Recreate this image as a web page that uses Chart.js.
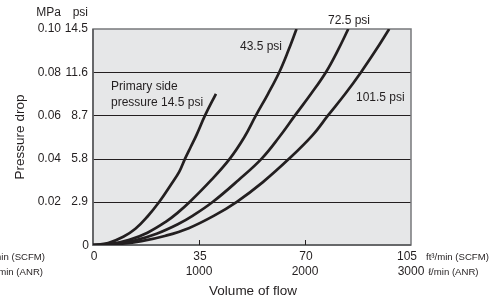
<!DOCTYPE html>
<html>
<head>
<meta charset="utf-8">
<script src="https://cdn.jsdelivr.net/npm/chart.js@4"></script>
<style>
  body { margin: 0; background: #fff; }
  #wrap { width: 504px; height: 302px; }
</style>
</head>
<body>
<div id="wrap"><canvas id="dropChart" width="504" height="302"></canvas></div>
<script>
// flow in ft3/min (SCFM), pressure drop in MPa
const flow145 = [0, 5, 10, 14, 18, 21.9, 26, 28.5, 30.4, 32.3, 34.2, 37, 40.6];
const drop145 = [0, 0.0009, 0.0038, 0.0075, 0.0132, 0.02, 0.0285, 0.034, 0.04, 0.0455, 0.051, 0.06, 0.07];

const flow435 = [0, 6, 12, 18, 24, 28, 32, 39, 45.2, 50, 53.8, 57.8, 61.5, 64.5, 67.2];
const drop435 = [0, 0.0005, 0.0024, 0.0057, 0.0107, 0.015, 0.02, 0.03, 0.04, 0.05, 0.06, 0.07, 0.08, 0.09, 0.10];

const flow725 = [0, 7, 14, 21, 28, 33, 39.6, 48, 55.7, 61.5, 66.7, 72, 76.9, 80.8, 84.3];
const drop725 = [0, 0.0005, 0.0022, 0.0052, 0.0096, 0.0136, 0.02, 0.03, 0.04, 0.05, 0.06, 0.07, 0.08, 0.09, 0.10];

const flow1015 = [0, 8, 16, 24, 31.6, 40, 47.5, 56, 64.8, 72.6, 77.6, 83.3, 88.5, 93.3, 97.8];
const drop1015 = [0, 0.0004, 0.0018, 0.0043, 0.0078, 0.0136, 0.02, 0.029, 0.04, 0.051, 0.06, 0.07, 0.08, 0.09, 0.10];

const mpaTicks = [0.02, 0.04, 0.06, 0.08, 0.10];
const mpaLabels = ["0.02", "0.04", "0.06", "0.08", "0.10"];
const psiTicks = [2.9, 5.8, 8.7, 11.6, 14.5];
const scfmTicks = [0, 35, 70, 105];
const lminTicks = [1000, 2000, 3000];

const ink = "#231f20";
const font = "'Liberation Sans', Arial, sans-serif";

function pts(xs, ys) {
    return xs.map((x, i) => ({ x: x, y: ys[i] }));
}

function curve(xs, ys) {
    return {
        data: pts(xs, ys),
        borderColor: ink,
        borderWidth: 2.7,
        pointRadius: 0,
        showLine: true,
        tension: 0.4,
        fill: false
    };
}

const decor = {
    id: "decor",
    beforeDatasetsDraw(chart) {
        const c = chart.ctx;
        const a = chart.chartArea;
        const x = chart.scales.x, y = chart.scales.y;
        c.save();
        c.fillStyle = "#e6e7e8";
        c.fillRect(a.left, a.top, a.right - a.left, a.bottom - a.top);
        // horizontal grid
        c.strokeStyle = ink;
        c.lineWidth = 1;
        mpaTicks.slice(0, 4).forEach(v => {
            const py = Math.round(y.getPixelForValue(v)) + 0.5;
            c.beginPath(); c.moveTo(a.left, py); c.lineTo(a.right, py); c.stroke();
        });
        // frame
        c.strokeStyle = "#77787b";
        c.lineWidth = 1.5;
        c.strokeRect(a.left, a.top, a.right - a.left, a.bottom - a.top);
        c.strokeStyle = "#58595b";
        c.beginPath();
        c.moveTo(a.left, a.top); c.lineTo(a.left, a.bottom); c.lineTo(a.right, a.bottom);
        c.stroke();
        // small x ticks inside
        c.lineWidth = 1;
        c.strokeStyle = ink;
        scfmTicks.slice(1, 3).forEach(v => {
            const px = Math.round(x.getPixelForValue(v)) + 0.5;
            c.beginPath(); c.moveTo(px, a.bottom); c.lineTo(px, a.bottom - 5); c.stroke();
        });
        c.restore();
    },
    afterDraw(chart) {
        const c = chart.ctx;
        const x = chart.scales.x, x2 = chart.scales.x2;
        const y = chart.scales.y, y2 = chart.scales.y2;
        c.save();
        c.fillStyle = ink;
        c.font = "12px " + font;
        c.textBaseline = "middle";

        // y tick labels, two columns
        c.textAlign = "right";
        mpaTicks.forEach((v, i) => c.fillText(mpaLabels[i], 61, y.getPixelForValue(v)));
        psiTicks.forEach(v => c.fillText(String(v), 88, y2.getPixelForValue(v)));
        c.fillText("0", 89, y.getPixelForValue(0) + 1);
        c.fillText("MPa", 61, 13);
        c.fillText("psi", 88, 13);

        // x tick labels, two rows
        c.textAlign = "center";
        scfmTicks.forEach((v, i) => {
            const px = x.getPixelForValue(v);
            if (i === scfmTicks.length - 1) {
                c.textAlign = "right";
                c.fillText(String(v), px + 6, 257);
                c.textAlign = "center";
            } else {
                c.fillText(String(v), px + 1, 257);
            }
        });
        lminTicks.forEach(v => c.fillText(String(v), x2.getPixelForValue(v), 272));

        // units
        c.font = "9.6px " + font;
        c.textAlign = "left";
        c.fillText("ft\u00b3/min (SCFM)", 426, 257);
        c.fillText("\u2113/min (ANR)", 428, 272);
        c.textAlign = "right";
        c.fillText("ft\u00b3/min (SCFM)", 45, 257);
        c.fillText("\u2113/min (ANR)", 43, 272);

        // axis titles
        c.font = "13.5px " + font;
        c.textAlign = "center";
        c.fillText("Volume of flow", 253, 291);
        c.save();
        c.translate(20, 137);
        c.rotate(-Math.PI / 2);
        c.fillText("Pressure drop", 0, 0);
        c.restore();

        // curve labels
        c.font = "12px " + font;
        c.textAlign = "left";
        c.fillText("Primary side", 111, 87);
        c.fillText("pressure 14.5 psi", 111, 103);
        c.fillText("43.5 psi", 240, 47);
        c.fillText("72.5 psi", 328, 21);
        c.fillText("101.5 psi", 356, 98);
        c.restore();
    }
};

new Chart(document.getElementById("dropChart").getContext("2d"), {
    type: "scatter",
    data: {
        datasets: [
            curve(flow145, drop145),
            curve(flow435, drop435),
            curve(flow725, drop725),
            curve(flow1015, drop1015)
        ]
    },
    options: {
        responsive: false,
        animation: false,
        layout: { padding: { left: 93, right: 93, top: 29, bottom: 57 } },
        plugins: { legend: { display: false }, tooltip: { enabled: false } },
        scales: {
            x: { type: "linear", min: 0, max: 105, display: false },
            x2: { type: "linear", min: 0, max: 3000, display: false },
            y: { type: "linear", min: 0, max: 0.10, display: false },
            y2: { type: "linear", min: 0, max: 14.5, display: false }
        }
    },
    plugins: [decor]
});
</script>
</body>
</html>
